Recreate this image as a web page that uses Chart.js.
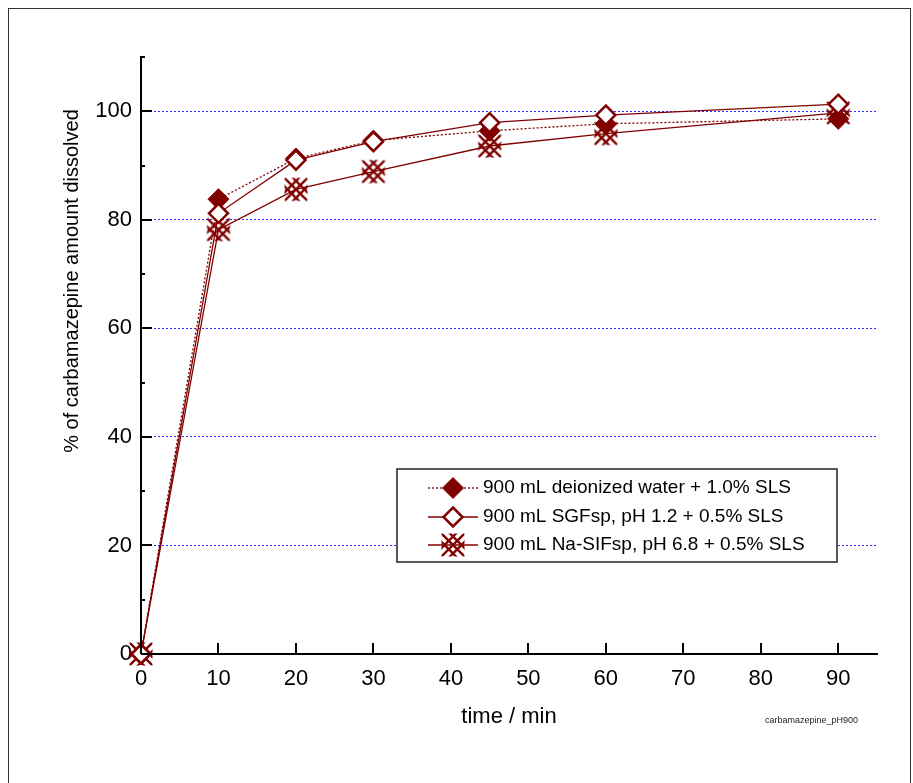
<!DOCTYPE html>
<html><head><meta charset="utf-8">
<script src="https://cdn.jsdelivr.net/npm/chart.js@4.4.1/dist/chart.umd.min.js"></script>
<style>
html,body{margin:0;padding:0;background:#fff;}
canvas{display:block;}
</style></head><body>
<canvas id="c" width="913" height="783"></canvas>
<script>
// ---- data ----
const times = [0, 10, 20, 30, 45, 60, 90];
const waterSLS = [0, 83.8, 91.3, 94.6, 96.4, 97.7, 98.6];
const sgfSLS = [0, 81.2, 91.0, 94.4, 97.9, 99.3, 101.3];
const sifSLS = [0, 78.2, 85.6, 88.9, 93.6, 95.9, 99.7];
const seriesLabels = ['900 mL deionized water + 1.0% SLS', '900 mL SGFsp, pH 1.2 + 0.5% SLS', '900 mL Na-SIFsp, pH 6.8 + 0.5% SLS'];
const xTicks = [0, 10, 20, 30, 40, 50, 60, 70, 80, 90];
const yTicks = [0, 20, 40, 60, 80, 100];
const yMinorTicks = [10, 30, 50, 70, 90, 110];
const xTitle = 'time / min';
const yTitle = '% of carbamazepine amount dissolved';
const noteText = 'carbamazepine_pH900';

const MAROON = '#800000';
const FONT = '"Liberation Sans", Arial, sans-serif';

function makeCross() {
  const s = 28, c = s / 2, h = 11.5, k = 8.5;
  const cv = document.createElement('canvas');
  cv.width = s; cv.height = s;
  const g = cv.getContext('2d');
  g.save();
  g.beginPath(); g.rect(c - h, c - h, 2 * h, 2 * h); g.clip();
  g.strokeStyle = MAROON; g.lineWidth = 2.3;
  for (const d of [-k, 0, k]) {
    g.beginPath(); g.moveTo(c - 20, c - 20 - d); g.lineTo(c + 20, c + 20 - d); g.stroke();
    g.beginPath(); g.moveTo(c - 20, c + d + 20); g.lineTo(c + 20, c + d - 20); g.stroke();
  }
  g.restore();
  return cv;
}
const crossImg = makeCross();

function drawDiamond(ctx, x, y, r, fill, stroke, lw) {
  ctx.save();
  ctx.beginPath();
  ctx.moveTo(x, y - r); ctx.lineTo(x + r, y); ctx.lineTo(x, y + r); ctx.lineTo(x - r, y); ctx.closePath();
  ctx.fillStyle = fill; ctx.fill();
  ctx.lineWidth = lw; ctx.strokeStyle = stroke; ctx.stroke();
  ctx.restore();
}

const pts = arr => times.map((t, i) => ({ x: t, y: arr[i] }));

const decor = {
  id: 'decor',
  beforeDraw(chart) {
    const ctx = chart.ctx;
    ctx.save();
    ctx.fillStyle = '#fff';
    ctx.fillRect(0, 0, chart.width, chart.height);
    ctx.strokeStyle = '#333'; ctx.lineWidth = 1;
    ctx.strokeRect(8.5, 8.5, 902, 800);
    ctx.restore();
  },
  afterDatasetsDraw(chart) {
    const ctx = chart.ctx, xs = chart.scales.x, ys = chart.scales.y;
    const a = chart.chartArea;
    ctx.save();
    ctx.strokeStyle = '#000'; ctx.lineWidth = 2;
    yTicks.forEach(v => { const p = Math.round(ys.getPixelForValue(v)); ctx.beginPath(); ctx.moveTo(a.left, p); ctx.lineTo(a.left + 11, p); ctx.stroke(); });
    yMinorTicks.forEach(v => { const p = Math.round(ys.getPixelForValue(v)); ctx.beginPath(); ctx.moveTo(a.left, p); ctx.lineTo(a.left + 4, p); ctx.stroke(); });
    xTicks.forEach(v => { const p = Math.round(xs.getPixelForValue(v)); ctx.beginPath(); ctx.moveTo(p, a.bottom); ctx.lineTo(p, a.bottom - 11); ctx.stroke(); });
    ctx.restore();
  },
  afterDraw(chart) {
    const ctx = chart.ctx;
    const a = chart.chartArea;
    ctx.save();
    ctx.fillStyle = '#000';
    ctx.font = '22px ' + FONT;
    ctx.textAlign = 'center'; ctx.textBaseline = 'middle';
    ctx.fillText(xTitle, (a.left + a.right) / 2, 717);
    ctx.save();
    ctx.translate(72, 281); ctx.rotate(-Math.PI / 2);
    ctx.font = '20px ' + FONT;
    ctx.fillText(yTitle, 0, 0);
    ctx.restore();
    ctx.font = '9px ' + FONT;
    ctx.fillStyle = '#222';
    ctx.textAlign = 'right';
    ctx.fillText(noteText, 858, 721);
    // legend
    const bx = 397, by = 469, bw = 440, bh = 93;
    ctx.fillStyle = '#fff'; ctx.fillRect(bx, by, bw, bh);
    ctx.strokeStyle = '#222'; ctx.lineWidth = 1.5; ctx.strokeRect(bx, by, bw, bh);
    const rows = [488, 517, 545];
    chart.data.datasets.forEach((ds, i) => {
      const y = rows[i];
      ctx.save();
      ctx.strokeStyle = ds.borderColor; ctx.lineWidth = ds.borderWidth;
      ctx.setLineDash(ds.borderDash || []);
      ctx.beginPath(); ctx.moveTo(428, y); ctx.lineTo(478, y); ctx.stroke();
      ctx.restore();
      if (ds.pointStyle === 'rectRot') {
        drawDiamond(ctx, 453, y, ds.pointRadius, ds.pointBackgroundColor, ds.pointBorderColor, ds.pointBorderWidth);
      } else {
        ctx.drawImage(ds.pointStyle, 453 - ds.pointStyle.width / 2, y - ds.pointStyle.height / 2);
      }
      ctx.fillStyle = '#000';
      ctx.font = '19px ' + FONT;
      ctx.textAlign = 'left'; ctx.textBaseline = 'middle';
      ctx.fillText(ds.label, 483, y);
    });
    ctx.restore();
  }
};

new Chart(document.getElementById('c'), {
  type: 'line',
  data: {
    datasets: [
      { label: seriesLabels[0], data: pts(waterSLS), borderColor: MAROON, borderWidth: 1.3, borderDash: [2, 2],
        pointStyle: 'rectRot', pointRadius: 10.5, pointBackgroundColor: MAROON, pointBorderColor: MAROON, pointBorderWidth: 1,
        order: 1, clip: false, tension: 0, fill: false },
      { label: seriesLabels[1], data: pts(sgfSLS), borderColor: MAROON, borderWidth: 1.3,
        pointStyle: 'rectRot', pointRadius: 9.5, pointBackgroundColor: '#fff', pointBorderColor: MAROON, pointBorderWidth: 2.5,
        order: 0, clip: false, tension: 0, fill: false },
      { label: seriesLabels[2], data: pts(sifSLS), borderColor: MAROON, borderWidth: 1.3,
        pointStyle: crossImg, pointRadius: 11, pointBackgroundColor: MAROON, pointBorderColor: MAROON,
        order: 2, clip: false, tension: 0, fill: false }
    ]
  },
  options: {
    responsive: false, animation: false, devicePixelRatio: 1,
    layout: { padding: { left: 0, right: 36, top: 57, bottom: 0 } },
    plugins: { legend: { display: false }, tooltip: { enabled: false } },
    scales: {
      x: {
        type: 'linear', min: 0, max: 95,
        afterBuildTicks: s => { s.ticks = xTicks.map(v => ({ value: v })); },
        afterFit: s => { s.height = 129; },
        grid: { display: false, drawTicks: false },
        border: { display: true, color: '#000', width: 2 },
        ticks: { font: { family: FONT, size: 22 }, color: '#000', padding: 12, maxRotation: 0, autoSkip: false }
      },
      y: {
        type: 'linear', min: 0, max: 110,
        afterBuildTicks: s => { s.ticks = yTicks.map(v => ({ value: v })); },
        afterFit: s => { s.width = 141; },
        grid: { display: true, drawTicks: false, lineWidth: 1,
          color: c => (c.tick && c.tick.value === 0) ? 'rgba(0,0,0,0)' : '#2b2bff' },
        border: { display: true, color: '#000', width: 2, dash: [2, 2] },
        ticks: { font: { family: FONT, size: 22 }, color: '#000', padding: 9 }
      }
    }
  },
  plugins: [decor]
});
</script>
</body></html>
